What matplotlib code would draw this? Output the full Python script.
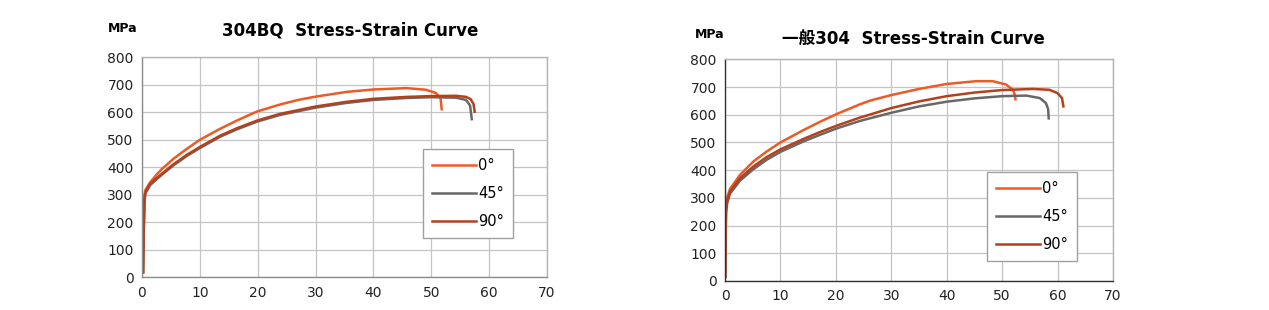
import matplotlib
matplotlib.use('Agg')
from matplotlib import pyplot as plt

plt.rcParams['font.family'] = ['DejaVu Sans', 'Noto Sans CJK SC']

labels = ['0°', '45°', '90°']
colors = ['#EE5A24', '#686868', '#B5401C']

# 304BQ (strain %, stress MPa)
bq_0_x = [0.15, 0.2, 0.3, 0.6, 1.4, 2.5, 3.5, 5.5, 7.8, 10, 13.5, 16.4, 19.9, 23.8, 27, 30, 35.3, 40, 45.7, 49.1, 50.8, 51.6, 51.8]
bq_0_y = [18, 150, 290, 318, 345, 373, 395, 432, 468, 500, 540, 570, 603, 628, 645, 657, 674, 683, 688, 682, 670, 651, 611]
bq_45_x = [0.2, 0.3, 0.45, 0.6, 1.4, 2.5, 3.5, 5.5, 7.8, 10, 13.5, 16.4, 19.9, 23.8, 27, 30, 35.3, 40, 45.7, 50, 54.3, 56, 56.7, 57.0]
bq_45_y = [18, 160, 280, 305, 335, 356, 374, 408, 442, 470, 511, 538, 566, 590, 604, 617, 634, 645, 652, 655, 653, 645, 625, 575]
bq_90_x = [0.2, 0.3, 0.45, 0.6, 1.4, 2.5, 3.5, 5.5, 7.8, 10, 13.5, 16.4, 19.9, 23.8, 27, 30, 35.3, 40, 45.7, 50, 54.3, 56, 56.8, 57.3, 57.5]
bq_90_y = [18, 175, 288, 310, 340, 360, 378, 412, 446, 474, 515, 542, 570, 594, 608, 621, 638, 649, 656, 659, 660, 656, 648, 630, 602]

# general 304 (strain %, stress MPa)
g_0_x = [0.05, 0.12, 0.18, 0.4, 0.9, 2.7, 5.1, 7.5, 10, 14.2, 17.2, 20.2, 24.4, 26.2, 30, 35, 40, 45.3, 48.3, 50.7, 51.9, 52.3, 52.4]
g_0_y = [15, 170, 275, 302, 332, 383, 431, 467, 500, 545, 575, 603, 638, 651, 671, 693, 711, 721, 721, 709, 691, 672, 656]
g_45_x = [0.05, 0.12, 0.18, 0.4, 0.9, 2.7, 5.1, 7.5, 10, 14.2, 17.2, 20.2, 24.4, 30, 35, 40, 45, 50, 54.4, 56.8, 57.9, 58.3, 58.4]
g_45_y = [15, 160, 245, 282, 315, 362, 403, 437, 466, 504, 528, 551, 578, 607, 630, 647, 659, 667, 669, 660, 642, 620, 587]
g_90_x = [0.05, 0.12, 0.18, 0.4, 0.9, 2.7, 5.1, 7.5, 10, 14.2, 17.2, 20.2, 24.4, 30, 35, 40, 45, 50, 55.5, 58.5, 60, 60.8, 61.05]
g_90_y = [15, 165, 255, 290, 323, 371, 413, 447, 475, 513, 538, 561, 590, 624, 648, 667, 680, 689, 693, 690, 678, 660, 630]

bq_x = [bq_0_x, bq_45_x, bq_90_x]
bq_y = [bq_0_y, bq_45_y, bq_90_y]
g_x = [g_0_x, g_45_x, g_90_x]
g_y = [g_0_y, g_45_y, g_90_y]

xticks = list(range(0, 71, 10))
yticks = list(range(0, 801, 100))


def draw(ax, xs, ys, title, title_xy, mpa_xy, leg_box, axis_col):
    for x, y, c, lab in zip(xs, ys, colors, labels):
        ax.plot(x, y, color=c, lw=1.8, label=lab, solid_joinstyle='round')
    ax.set_xlim(0, 70)
    ax.set_ylim(0, 800)
    ax.set_xticks(xticks)
    ax.set_yticks(yticks)
    ax.grid(True, color='#C4C4C4', lw=0.9)
    ax.set_axisbelow(True)
    ax.tick_params(length=0, labelsize=10, pad=6, colors='#222222')
    for name, sp in ax.spines.items():
        sp.set_linewidth(1.0)
        if name in ('left', 'bottom'):
            sp.set_color(axis_col)
        else:
            sp.set_color('#B4B4B4')
    leg = ax.legend(loc='upper left', bbox_to_anchor=leg_box, bbox_transform=fig.transFigure,
                    fancybox=False, framealpha=1, edgecolor='#A0A0A0',
                    handlelength=3.0, handletextpad=0.2, labelspacing=0.9,
                    fontsize=10.5, borderpad=0.6, borderaxespad=0)
    leg.get_frame().set_linewidth(1.0)
    fig.text(*mpa_xy, 'MPa', fontsize=9, fontweight='bold', ha='left', va='center')
    fig.text(*title_xy, title, fontsize=12, fontweight='bold', ha='center', va='center')


fig = plt.figure(figsize=(12.69, 3.10), dpi=100)
ax1 = fig.add_axes([142 / 1269, 1 - 277.3 / 310, 405 / 1269, 220 / 310])
ax2 = fig.add_axes([725 / 1269, 1 - 281 / 310, 388 / 1269, 221.7 / 310])

draw(ax1, bq_x, bq_y, '304BQ  Stress-Strain Curve', (350 / 1269, 1 - 31 / 310),
     (108 / 1269, 1 - 28 / 310), (423 / 1269, 1 - 149 / 310), '#8C8C8C')
draw(ax2, g_x, g_y, '一般304  Stress-Strain Curve', (913 / 1269, 1 - 40 / 310),
     (695 / 1269, 1 - 34 / 310), (987 / 1269, 1 - 172 / 310), '#333333')

fig.savefig('out.png', dpi=100)
